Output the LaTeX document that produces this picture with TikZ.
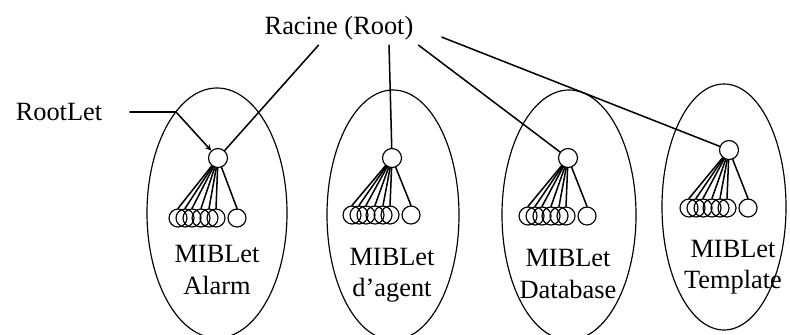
\documentclass[tikz,border=0pt]{standalone}
\usepackage{fontspec}
\setmainfont{Liberation Serif}
\usetikzlibrary{positioning}
\tikzset{
  rootlet/.style={circle,draw,inner sep=0pt,minimum size=0.57cm},
  childlet/.style={circle,draw,inner sep=0pt,minimum size=0.54cm},
  miblabel/.style={align=center}
}
\begin{document}
\begin{tikzpicture}[x=0.03cm,y=-0.03cm,line cap=round,line width=1pt,font=\fontsize{22.5}{26.5}\selectfont]
		\useasboundingbox (0,0) rectangle (790,334);
		\node[inner sep=4pt] (racine) at (339,28) {Racine (Root)};
		\foreach \m/\ex/\ey/\ea/\eb/\rx/\ry/\cy/\lx/\ly/\txt in {A/217/213/2.1/3.75/218/158/218/217/270/Alarm,
			B/393/215/1.98/3.75/392/158/215/392/275/d'agent,
			C/569/215/2.01/3.75/568/158/216/568/274/Database,
			D/724/207/1.86/3.69/729/150/208/733/267/Template}{
			\draw (\ex,\ey) ellipse (\ea cm and \eb cm);
			\node[rootlet] (\m) at (\rx,\ry) {};
			\foreach \o [count=\k] in {-40,-33,-26,-17,-9,-2,19}{
				\node[childlet] (\m-\k) at (\rx+\o,\cy) {};
				\draw[line width=1.3pt] (\m) -- (\m-\k.north);}
			\node[miblabel] (\m-txt) at (\lx,\ly) {MIBLet\\\txt};}
		\draw[line width=1.3pt] (racine.-140) -- (A);
		\draw[line width=1.3pt] (racine.-19) -- (B);
		\draw[line width=1.3pt] (racine.south east) -- (C);
		\draw[line width=1.3pt,shorten <=0.75cm] (racine.east) -- (D);
		\coordinate (rl) at (130,112);
		\node[left=0.7cm of rl] (rootlet) {RootLet};
		\draw[<-, >=stealth, line width=1.3pt] (A) -- (176,112) -- (rl);
\end{tikzpicture}
\end{document}
